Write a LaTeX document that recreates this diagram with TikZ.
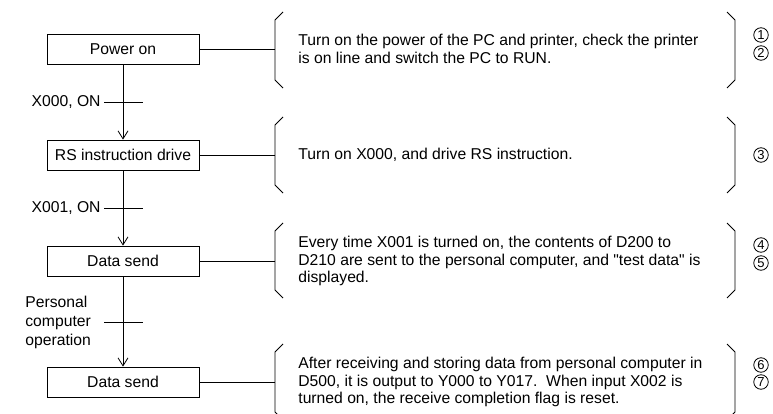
\documentclass[tikz,border=0pt]{standalone}
\usepackage{fontspec}
\setmainfont{Liberation Sans}
\usepackage{tikz}
\usetikzlibrary{arrows.meta, calc}

\tikzset{
  stepbox/.style={draw, minimum width=152pt, minimum height=30pt, inner sep=0pt},
  note/.style={anchor=west, align=left, inner sep=0pt},
  flow/.style={-{Straight Barb[length=8pt,width=10pt]}},
  stepnum/.style={draw, circle, line width=0.8pt, minimum size=14.5pt, inner sep=0pt,
    font=\fontsize{13}{13}\selectfont},
}

\begin{document}
\begin{tikzpicture}[x=1pt, y=-1pt, line width=0.8pt,
    every node/.style={font=\fontsize{15.7}{17.5}\selectfont}]
      \useasboundingbox (0,0) rectangle (773,414);
      % steps
      \node[stepbox] (pwr) at (123,49) {Power on};
      \node[stepbox] (rsd) at (123,155) {RS instruction drive};
      \node[stepbox] (snd) at (123,261) {Data send};
      \node[stepbox] (rcv) at (123,382) {Data send};
      \draw[flow] (pwr) -- (rsd);
      \draw[flow] (rsd) -- (snd);
      \draw[flow] (snd) -- (rcv);
      % conditions
      \coordinate (c1w) at (104,102);
      \coordinate (c1e) at (143,102);
      \coordinate (c2w) at (104,208);
      \coordinate (c2e) at (143,208);
      \coordinate (c3w) at (104,322);
      \coordinate (c3e) at (143,322);
      \draw (c1w) -- (c1e);
      \draw (c2w) -- (c2e);
      \draw (c3w) -- (c3e);
      \node[anchor=east, inner sep=0pt] (x000) at ($(c1w)+(-3,0)$) {X000, ON};
      \node[anchor=east, inner sep=0pt] (x001) at ($(c2w)+(-3,0)$) {X001, ON};
      \node[note, font=\fontsize{15.7}{19}\selectfont] (pcop) at (25,322) {Personal\\computer\\operation};
      % explanations
      \node[note] (notepwr) at (298,49) {Turn on the power of the PC and printer, check the printer\\is on line and switch the PC to RUN.};
      \node[note] (notersd) at (298,155) {Turn on X000, and drive RS instruction.};
      \node[note] (notesnd) at (298,261) {Every time X001 is turned on, the contents of D200 to\\D210 are sent to the personal computer, and \textquotedbl test data\textquotedbl{} is\\displayed.};
      \node[note] (notercv) at (298,382) {After receiving and storing data from personal computer in\\D500, it is output to Y000 to Y017.\ \ When input X002 is\\turned on, the receive completion flag is reset.};
      % brackets
      \foreach \t/\b in {12/88, 117/193, 223/298, 344/420} {
        \draw (283,\t) -- (275,\t+8) -- (275,\b-8) -- (283,\b);
        \draw (727,\t) -- (735,\t+8) -- (735,\b-8) -- (727,\b);
      }
      \coordinate (bpwr) at (275,49);
      \coordinate (brsd) at (275,155);
      \coordinate (bsnd) at (275,261);
      \coordinate (brcv) at (275,382);
      \draw (pwr.east) -- (bpwr);
      \draw (rsd.east) -- (brsd);
      \draw (snd.east) -- (bsnd);
      \draw (rcv.east) -- (brcv);
      % step numbers
      \foreach \n/\y in {1/35, 2/53, 3/155, 4/245, 5/263, 6/365, 7/382}
        \node[stepnum] (num\n) at (761,\y) {\n};
    \end{tikzpicture}
\end{document}
